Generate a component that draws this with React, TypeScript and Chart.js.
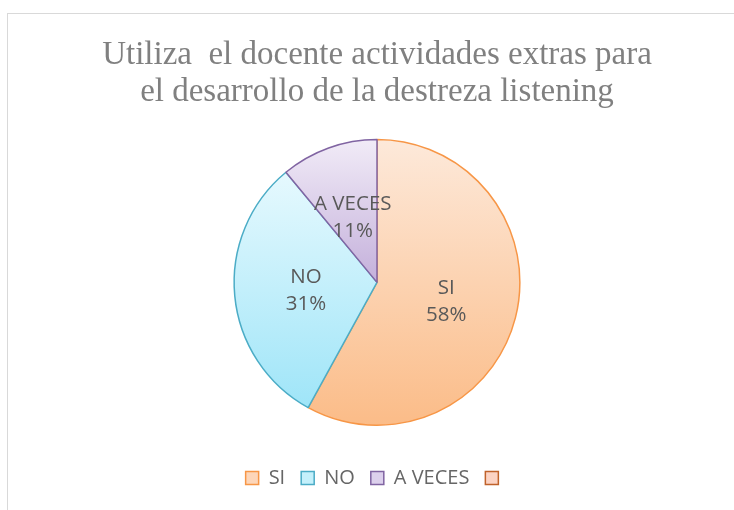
import React, { useEffect, useRef } from "react";
import { Chart, registerables } from "chart.js";

Chart.register(...registerables);

const TITLE_LINES = ["Utiliza  el docente actividades extras para", "el desarrollo de la destreza listening"];
const CATEGORIES = ["SI", "NO", "A VECES", ""];
const VALUES = [58, 31, 11, 0];
const PERCENT_LABELS = ["58%", "31%", "11%", ""];
const BORDER_COLORS = ["#f79646", "#4bacc6", "#8064a2", "#c0622a"];
const GRAD_TOP = ["#fde9da", "#e6f9fe", "#f1ebf7", "#fde0d4"];
const GRAD_BOTTOM = ["#fbbc88", "#9fe5f8", "#c4b0db", "#f9b9a0"];
const LEGEND_FILL = ["#fdd6b9", "#c4f0fb", "#dcd0ec", "#fcd3c3"];

const LABEL_FONT = "'Open Sans', 'Noto Sans', sans-serif";

function sectorYRange(cy: number, r: number, a0: number, a1: number): [number, number] {
  const ys = [cy, cy + r * Math.sin(a0), cy + r * Math.sin(a1)];
  const inRange = (a: number) => {
    for (let k = -2; k <= 2; k++) {
      const t = a + k * 2 * Math.PI;
      if (t >= a0 && t <= a1) return true;
    }
    return false;
  };
  if (inRange(-Math.PI / 2)) ys.push(cy - r);
  if (inRange(Math.PI / 2)) ys.push(cy + r);
  return [Math.min(...ys), Math.max(...ys)];
}

function sliceGradient(ctx: any) {
  const chart = ctx.chart;
  const i = ctx.dataIndex;
  const area = chart.chartArea;
  if (!area) return GRAD_BOTTOM[i];
  const meta = chart.getDatasetMeta(0);
  const ctrl: any = meta.controller;
  const r = ctrl.outerRadius || Math.min(area.right - area.left, area.bottom - area.top) / 2;
  const cy = (area.top + area.bottom) / 2 + (ctrl.offsetY || 0);
  const total = VALUES.reduce((s, v) => s + v, 0);
  let start = -Math.PI / 2;
  for (let k = 0; k < i; k++) start += (VALUES[k] / total) * 2 * Math.PI;
  const end = start + (VALUES[i] / total) * 2 * Math.PI;
  const [y0, y1] = sectorYRange(cy, r, start, end);
  const g = chart.ctx.createLinearGradient(0, y0, 0, Math.max(y1, y0 + 1));
  g.addColorStop(0, GRAD_TOP[i]);
  g.addColorStop(1, GRAD_BOTTOM[i]);
  return g;
}

const sliceLabelPlugin = {
  id: "sliceLabels",
  afterDatasetsDraw(chart: any) {
    const { ctx } = chart;
    const meta = chart.getDatasetMeta(0);
    ctx.save();
    ctx.font = `20.5px ${LABEL_FONT}`;
    ctx.fillStyle = "#595959";
    ctx.textAlign = "center";
    ctx.textBaseline = "middle";
    meta.data.forEach((arc: any, i: number) => {
      if (!VALUES[i]) return;
      const p = arc.tooltipPosition();
      ctx.fillText(CATEGORIES[i], p.x, p.y - 11.5);
      ctx.fillText(PERCENT_LABELS[i], p.x, p.y + 15.5);
    });
    ctx.restore();
  },
};

export default function App() {
  const ref = useRef<HTMLCanvasElement | null>(null);
  useEffect(() => {
    if (!ref.current) return;
    const chart = new Chart(ref.current, {
      type: "pie",
      data: {
        labels: CATEGORIES,
        datasets: [
          {
            data: VALUES,
            backgroundColor: sliceGradient as any,
            borderColor: BORDER_COLORS,
            borderWidth: [1.5, 1.5, 1.5, 0],
            hoverOffset: 0,
          },
        ],
      },
      options: {
        animation: false,
        responsive: true,
        maintainAspectRatio: false,
        layout: { padding: { left: 20, right: 0, top: 0, bottom: 12 } },
        plugins: {
          tooltip: { enabled: false },
          title: {
            display: true,
            text: TITLE_LINES,
            color: "#808080",
            font: { family: "'Liberation Serif', 'Times New Roman', serif", size: 33, weight: "normal", lineHeight: 1.11 },
            padding: { top: 37, bottom: 28.5 },
          },
          legend: {
            display: true,
            position: "bottom",
            title: { display: true, text: "", font: { size: 1, lineHeight: 1 }, padding: { top: 25, bottom: 0 } },
            labels: {
              boxWidth: 13,
              boxHeight: 13,
              padding: 16,
              color: "#595959",
              font: { family: LABEL_FONT, size: 20 },
              generateLabels: () =>
                CATEGORIES.map((c, i) => ({
                  text: c,
                  fillStyle: LEGEND_FILL[i],
                  strokeStyle: BORDER_COLORS[i],
                  lineWidth: 1.5,
                  hidden: false,
                  index: i,
                  datasetIndex: 0,
                })),
            },
          },
        },
      },
      plugins: [sliceLabelPlugin],
    });
    return () => chart.destroy();
  }, []);

  return (
    <div style={{ position: "fixed", left: 0, top: 0, width: 734, height: 510, overflow: "hidden", background: "#ffffff" }}>
      <div
        style={{
          position: "absolute",
          left: 7,
          top: 13,
          width: 800,
          height: 600,
          border: "1px solid #d9d9d9",
          pointerEvents: "none",
        }}
      />
      <div style={{ position: "absolute", left: 0, top: 0, width: 734, height: 510 }}>
        <canvas ref={ref} />
      </div>
    </div>
  );
}
